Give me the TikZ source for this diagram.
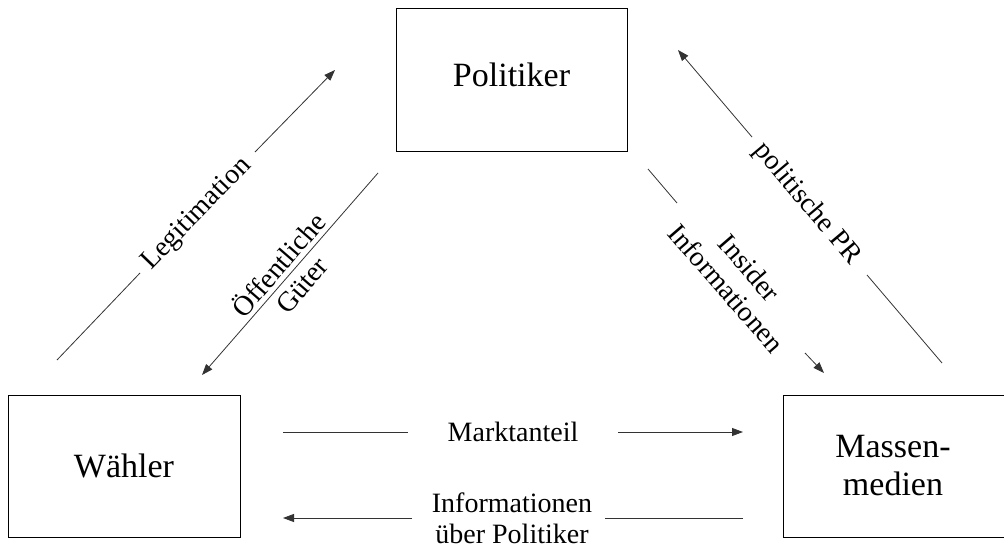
\documentclass[tikz,border=0pt]{standalone}
\usepackage{fontspec}
\setmainfont{Liberation Serif}
\usetikzlibrary{arrows.meta}
\begin{document}
\begin{tikzpicture}[x=1pt,y=-1pt,
  box/.style={draw=black, line width=1pt, inner sep=0pt},
  boxtext/.style={font=\fontsize{34}{38}\selectfont, align=center, inner sep=0pt},
  lbl/.style={font=\fontsize{28}{31}\selectfont, align=center, inner sep=0pt},
  flow/.style={draw=black!80, line width=0.8pt},
  tip/.style={-{Triangle[length=11pt,width=8pt]}}]
\useasboundingbox (0,0) rectangle (1004,548);

% actors
\node[box, minimum width=231pt, minimum height=143pt] (pol) at (511.5,80.5) {};
\node[boxtext] (poltext) at (511.5,75) {Politiker};
\node[box, minimum width=232pt, minimum height=142pt] (wae) at (124,466) {};
\node[boxtext] (waetext) at (124,466) {Wähler};
\node[box, minimum width=240pt, minimum height=142pt] (mas) at (903,466) {};
\node[boxtext] (mastext) at (893,466) {Massen-\\medien};

% Legitimation: voters -> politicians
\coordinate (l1) at (57,360);
\coordinate (l2) at (140,273);
\coordinate (l3) at (255,152);
\coordinate (l4) at (335,70);
\draw[flow] (l1) -- (l2);
\draw[flow,tip] (l3) -- (l4);
\node[lbl, rotate=46] (legl) at (197,214) {Legitimation};

% public goods: politicians -> voters
\coordinate (o1) at (378,173);
\coordinate (o2) at (202,375);
\draw[flow,tip] (o1) -- (o2);
\node[lbl, rotate=49] (oefl) at (289,274) {Öffentliche\\Güter};

% insider information: politicians -> media
\coordinate (i1) at (648,169);
\coordinate (i2) at (677,203);
\coordinate (i3) at (805,353);
\coordinate (i4) at (824,373);
\draw[flow] (i1) -- (i2);
\draw[flow,tip] (i3) -- (i4);
\node[lbl, rotate=-49] (insl) at (738,278) {Insider\\Informationen};

% political PR: media -> politicians
\coordinate (p1) at (942,363);
\coordinate (p2) at (867,275);
\coordinate (p3) at (752,137);
\coordinate (p4) at (678,50);
\draw[flow] (p1) -- (p2);
\draw[flow,tip] (p3) -- (p4);
\node[lbl, rotate=-50] (prl) at (807,204) {politische PR};

% market share: voters -> media
\coordinate (m1) at (283,432);
\coordinate (m2) at (408,432);
\coordinate (m3) at (618,432);
\coordinate (m4) at (743,432);
\draw[flow] (m1) -- (m2);
\draw[flow,tip] (m3) -- (m4);
\node[lbl] (mktl) at (513,432) {Marktanteil};

% information about politicians: media -> voters
\coordinate (n1) at (743,518);
\coordinate (n2) at (605,518);
\coordinate (n3) at (412,518);
\coordinate (n4) at (283,518);
\draw[flow] (n1) -- (n2);
\draw[flow,tip] (n3) -- (n4);
\node[lbl] (infl) at (512,518) {Informationen\\über Politiker};
\end{tikzpicture}
\end{document}
